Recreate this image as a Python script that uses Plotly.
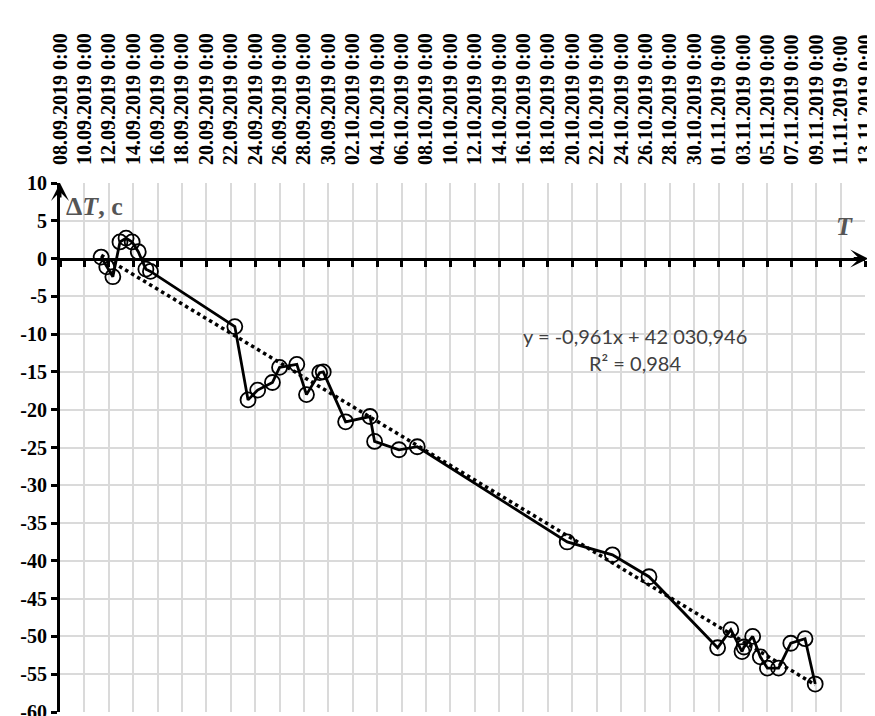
import numpy as np
import pandas as pd
import plotly.graph_objects as go

# ---- data ----
times = [
    "2019-09-11 09:00", "2019-09-11 20:00", "2019-09-12 08:00", "2019-09-12 22:00",
    "2019-09-13 10:00", "2019-09-13 22:00", "2019-09-14 10:00", "2019-09-15 01:00",
    "2019-09-15 10:00", "2019-09-22 08:00", "2019-09-23 10:00", "2019-09-24 05:00",
    "2019-09-25 10:00", "2019-09-26 00:00", "2019-09-27 10:00", "2019-09-28 05:00",
    "2019-09-29 07:00", "2019-09-29 14:00", "2019-10-01 10:00", "2019-10-03 10:00",
    "2019-10-03 19:00", "2019-10-05 19:00", "2019-10-07 07:00", "2019-10-19 14:00",
    "2019-10-23 07:00", "2019-10-26 07:00", "2019-10-31 22:00", "2019-11-02 00:00",
    "2019-11-02 22:00", "2019-11-03 02:00", "2019-11-03 19:00", "2019-11-04 10:00",
    "2019-11-05 00:00", "2019-11-05 22:00", "2019-11-06 22:00", "2019-11-08 02:00",
    "2019-11-08 22:00",
]
delta_t = [
    0.2, -1.1, -2.4, 2.2,
    2.7, 2.2, 0.9, -1.4,
    -1.7, -9.0, -18.7, -17.4,
    -16.4, -14.4, -14.0, -18.0,
    -15.1, -15.0, -21.6, -20.9,
    -24.2, -25.3, -24.9, -37.5,
    -39.2, -42.1, -51.5, -49.1,
    -52.0, -51.4, -50.0, -52.7,
    -54.2, -54.2, -50.9, -50.3,
    -56.3,
]
x_start = "2019-09-08"
x_end = "2019-11-13"
tick_dates = pd.date_range(x_start, x_end, freq="2D")
tick_labels = [d.strftime("%d.%m.%Y") + " 0:00" for d in tick_dates]
y_ticks = list(range(-60, 11, 5))
y_tick_labels = [str(v) for v in y_ticks]
eq_text = "y = -0,961x + 42 030,946"
r2_text = "R² = 0,984"

# ---- linear trend (computed from data, like the spreadsheet trendline) ----
t = pd.to_datetime(times)
days = (t - t[0]) / pd.Timedelta(days=1)
k, b = np.polyfit(days, delta_t, 1)
trend_x = [t[0], t[-1]]
trend_y = [b, k * days[-1] + b]

fig = go.Figure()
fig.add_trace(go.Scatter(
    x=trend_x, y=trend_y, mode="lines",
    line=dict(color="black", width=3.5, dash="dot"),
    hoverinfo="skip", showlegend=False,
))
fig.add_trace(go.Scatter(
    x=t, y=delta_t, mode="lines+markers",
    line=dict(color="black", width=2.8),
    marker=dict(symbol="circle-open", size=15, color="black", line=dict(width=1.8)),
    showlegend=False, cliponaxis=False,
))
# invisible trace so the zero-line axis is drawn
fig.add_trace(go.Scatter(x=[t[0]], y=[0], xaxis="x2", yaxis="y", mode="markers",
                         marker=dict(opacity=0), showlegend=False, hoverinfo="skip"))

grid = "#dadada"
# the page body has an 8px default margin, so the figure is sized to fit the window
fig.update_layout(
    width=867, height=708,
    margin=dict(l=52, r=10, t=175, b=4, autoexpand=False),
    paper_bgcolor="white", plot_bgcolor="white",
    xaxis=dict(
        type="date", range=[x_start, x_end], side="top", automargin=False,
        tickvals=list(tick_dates), ticktext=tick_labels, tickangle=-90,
        tickfont=dict(family="Liberation Serif", size=20, color="black", weight="bold"),
        ticklabeloverflow="allow",
        showgrid=True, gridcolor=grid, gridwidth=1.5,
        ticks="outside", ticklen=13, tickcolor="rgba(0,0,0,0)",
        showline=False, zeroline=False, mirror=False,
    ),
    xaxis2=dict(
        type="date", range=[x_start, x_end], overlaying="x", anchor="free",
        position=60 / 70, side="bottom", automargin=False,
        tickvals=list(tick_dates), showticklabels=False,
        ticks="outside", ticklen=6, tickwidth=3, tickcolor="black",
        showline=True, linecolor="black", linewidth=3,
        showgrid=False, zeroline=False,
    ),
    yaxis=dict(
        range=[-60, 10], tickvals=y_ticks, ticktext=y_tick_labels, automargin=False,
        tickfont=dict(family="Liberation Serif", size=20, color="black", weight="bold"),
        ticklabeloverflow="allow",
        showgrid=True, gridcolor=grid, gridwidth=1.5,
        showline=True, linecolor="black", linewidth=3,
        ticks="outside", ticklen=6, tickwidth=3, tickcolor="black",
        zeroline=False,
    ),
)

# axis arrows
fig.add_annotation(x=1.004, y=0, xref="paper", yref="y", ax=-16, ay=0,
                   text="", showarrow=True, arrowhead=3, arrowwidth=3,
                   arrowsize=1, arrowcolor="black")
fig.add_annotation(x=0, y=10, xref="paper", yref="y", ax=0, ay=16,
                   text="", showarrow=True, arrowhead=3, arrowwidth=3,
                   arrowsize=1, arrowcolor="black")

# axis titles
fig.add_annotation(x=0.005, y=6.9, xref="paper", yref="y", xanchor="left",
                   text="<b>Δ<i>T</i>, c</b>", showarrow=False,
                   font=dict(family="Liberation Serif", size=26, color="#555555"))
fig.add_annotation(x=0.975, y=4.2, xref="paper", yref="y", xanchor="center",
                   text="<b><i>T</i></b>", showarrow=False,
                   font=dict(family="Liberation Serif", size=26, color="#555555"))

# trendline equation
fig.add_annotation(x=0.714, y=-10.2, xref="paper", yref="y", xanchor="center",
                   text=eq_text, showarrow=False,
                   font=dict(family="Lato", size=20, color="#404040"))
fig.add_annotation(x=0.714, y=-13.8, xref="paper", yref="y", xanchor="center",
                   text=r2_text, showarrow=False,
                   font=dict(family="Lato", size=20, color="#404040"))

fig.write_html("out.html")
